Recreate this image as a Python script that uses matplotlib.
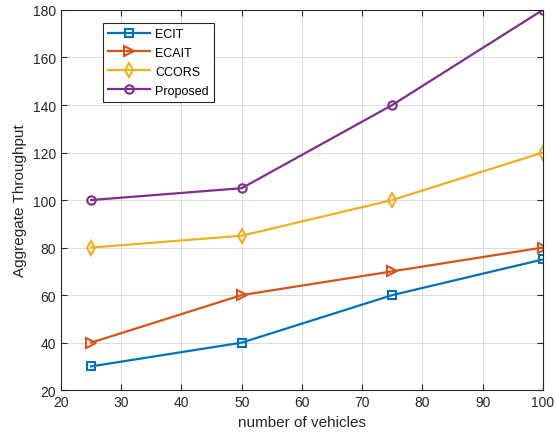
import matplotlib
matplotlib.use("Agg")
import matplotlib.pyplot as plt

vehicles = [25, 50, 75, 100]
ecit = [30, 40, 60, 75]
ecait = [40, 60, 70, 80]
ccors = [80, 85, 100, 120]
proposed = [100, 105, 140, 180]

plt.rcParams['font.family'] = ['Liberation Sans', 'DejaVu Sans']

fig = plt.figure(figsize=(5.55, 4.39), dpi=100)
ax = fig.add_axes([0.110, 0.109, 0.868, 0.866])

ax.plot(vehicles, ecit, color='#0072BD', marker='s', lw=1.6, ms=5.5, mfc='none', mew=1.5, label='ECIT')
ax.plot(vehicles, ecait, color='#D95319', marker='>', lw=1.6, ms=6.5, mfc='none', mew=1.5, label='ECAIT')
ax.plot(vehicles, ccors, color='#EDB120', marker='d', lw=1.6, ms=7, mfc='none', mew=1.5, label='CCORS')
ax.plot(vehicles, proposed, color='#7E2F8E', marker='o', lw=1.6, ms=6, mfc='none', mew=1.5, label='Proposed')

ax.set_xlim(20, 100)
ax.set_ylim(20, 180)
ax.set_xticks(range(20, 101, 10))
ax.set_yticks(range(20, 181, 20))
ax.grid(True, color='#dcdcdc', lw=0.7)
ax.set_axisbelow(True)
ax.tick_params(direction='in', labelsize=10, colors='#262626', length=4, top=True, right=True)
for s in ax.spines.values():
    s.set_color('#262626')
    s.set_linewidth(0.8)
ax.set_xlabel('number of vehicles', fontsize=11, color='#262626')
ax.set_ylabel('Aggregate Throughput', fontsize=11, color='#262626')

leg = ax.legend(loc='upper left', bbox_to_anchor=(0.087, 0.966), fontsize=9, fancybox=False,
                edgecolor='#262626', framealpha=1, handlelength=3.4, borderpad=0.4,
                labelspacing=0.55, handletextpad=0.4, borderaxespad=0)
leg.get_frame().set_linewidth(0.8)

fig.savefig('out.png', dpi=100)
